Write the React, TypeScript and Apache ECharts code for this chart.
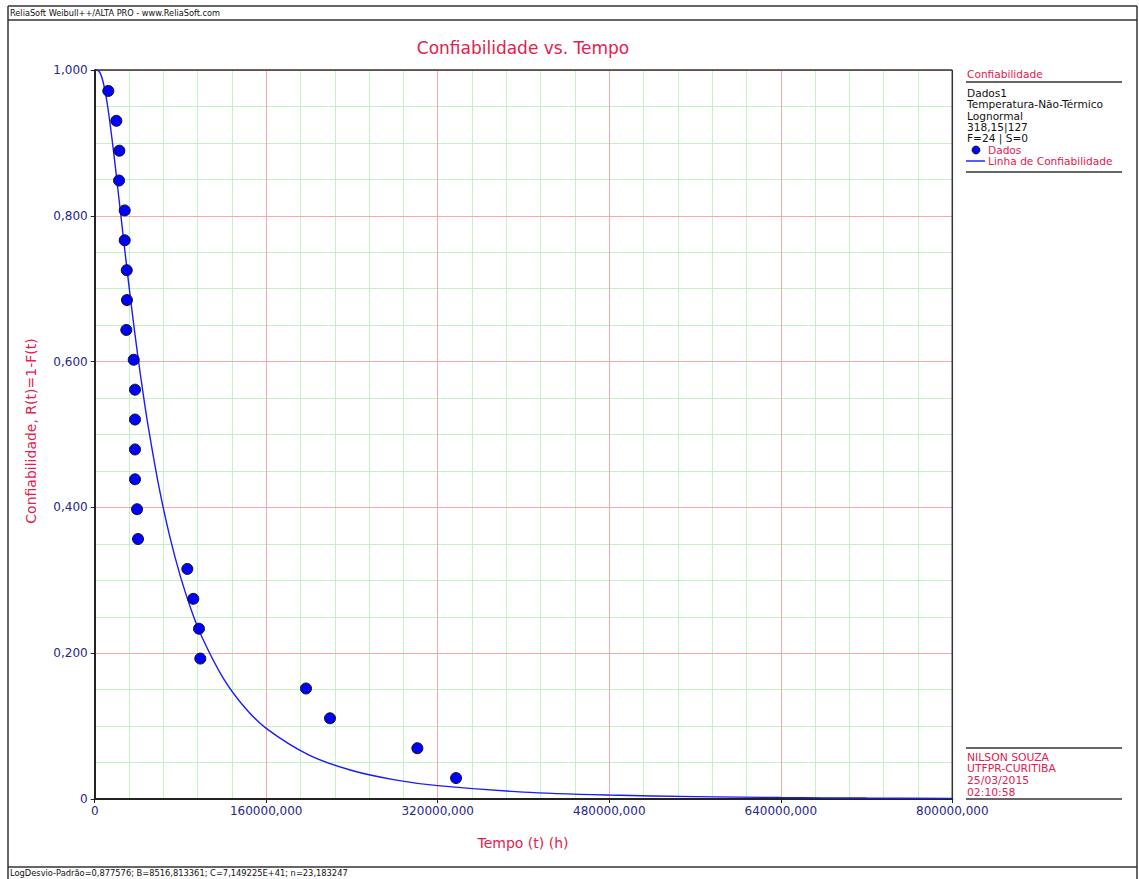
import React, { useEffect, useRef } from "react";
import * as echarts from "echarts";

// Failure data (time in hours) and median-rank reliability values
const dataTimes: number[] = [
  12700, 20200, 23000, 22700, 28000, 28000, 29900, 30100, 29500, 36400, 37600, 37600,
  37600, 37600, 39500, 40400, 86400, 92000, 97300, 98500, 197100, 219500, 301000, 337100,
];
const dataReliability: number[] = [
  0.9713, 0.9303, 0.8893, 0.8484, 0.8074, 0.7664, 0.7254, 0.6844, 0.6434, 0.6025, 0.5615, 0.5205,
  0.4795, 0.4385, 0.3975, 0.3566, 0.3156, 0.2746, 0.2336, 0.1926, 0.1516, 0.1107, 0.0697, 0.0287,
];

// Reliability line
const lineTimes: number[] = [
  0, 2500, 5000, 7500, 10000, 12500, 15000, 17500, 20000, 25000, 30000, 35000, 40000, 45000,
  50000, 60000, 70000, 80000, 90000, 100000, 120000, 140000, 160000, 200000, 240000, 280000,
  320000, 400000, 480000, 560000, 640000, 720000, 800000,
];
const lineReliability: number[] = [
  1.0, 0.9997, 0.996, 0.9856, 0.9685, 0.9458, 0.9189, 0.8891, 0.8576, 0.7926, 0.7283, 0.6671,
  0.6102, 0.5579, 0.5102, 0.4277, 0.3602, 0.3051, 0.2597, 0.2223, 0.1655, 0.1255, 0.0968,
  0.0601, 0.0391, 0.0263, 0.0183, 0.0095, 0.0054, 0.0032, 0.002, 0.0013, 0.0009,
];

const titleText = "Confiabilidade vs. Tempo";
const xAxisName = "Tempo (t) (h)";
const yAxisName = "Confiabilidade, R(t)=1-F(t)";
const headerText = "ReliaSoft Weibull++/ALTA PRO - www.ReliaSoft.com";
const footerText = "LogDesvio-Padrão=0,877576; B=8516,813361; C=7,149225E+41; n=23,183247";
const legendTitle = "Confiabilidade";
const legendInfo: string[] = ["Dados1", "Temperatura-Não-Térmico", "Lognormal", "318,15|127", "F=24 | S=0"];
const legendSeries: string[] = ["Dados", "Linha de Confiabilidade"];
const authorInfo: string[] = ["NILSON SOUZA", "UTFPR-CURITIBA", "25/03/2015", "02:10:58"];

const CRIMSON = "#e3204e";
const NAVY = "#26268c";
const FONT = "DejaVu Sans, Verdana, sans-serif";

export default function App() {
  const ref = useRef<HTMLDivElement>(null);
  useEffect(() => {
    if (!ref.current) return;
    const chart = echarts.init(ref.current, undefined, { renderer: "svg" });
    const fmtY = (v: number) => (v === 0 ? "0" : v.toFixed(3).replace(".", ","));
    const fmtX = (v: number) => (v === 0 ? "0" : v.toFixed(3).replace(".", ","));
    const frameLine = (x1: number, y1: number, x2: number, y2: number, w = 1.5, z = 10) => ({
      type: "line",
      shape: { x1, y1, x2, y2 },
      style: { stroke: "#333", lineWidth: w },
      silent: true,
      z,
    });
    const txt = (x: number, y: number, text: string, fill: string, size: number, extra: any = {}) => ({
      type: "text",
      x,
      y,
      style: {
        text,
        fill,
        font: `${size}px ${FONT}`,
        textAlign: "left",
        textVerticalAlign: "middle",
        verticalAlign: "middle",
        ...extra,
      },
      silent: true,
    });
    const gl = 94.7, gt = 70, gr = 952.3, gb = 799;
    const graphics: any[] = [
      frameLine(8, 6, 1137, 6),
      frameLine(8, 20, 1137, 20),
      frameLine(8, 867, 1137, 867),
      frameLine(8, 6, 8, 879),
      frameLine(1137, 6, 1137, 879),
      frameLine(gl, gt, gr, gt, 1.5, 100),
      frameLine(gr, gt, gr, gb, 1.5, 100),
      txt(10, 13, headerText, "#111", 8.2),
      txt(10, 873, footerText, "#111", 8.3),
      {
        type: "text",
        x: 523,
        y: 48,
        style: { text: titleText, fill: CRIMSON, font: `17px ${FONT}`, textAlign: "center", verticalAlign: "middle" },
        silent: true,
      },
      {
        type: "text",
        x: 523,
        y: 843,
        style: { text: xAxisName, fill: CRIMSON, font: `14px ${FONT}`, textAlign: "center", verticalAlign: "middle" },
        silent: true,
      },
      {
        type: "text",
        x: 31,
        y: 431,
        rotation: Math.PI / 2,
        style: { text: yAxisName, fill: CRIMSON, font: `14px ${FONT}`, textAlign: "center", verticalAlign: "middle" },
        silent: true,
      },
      txt(967, 74, legendTitle, CRIMSON, 10.6),
      frameLine(966, 82, 1122, 82),
      ...legendInfo.map((s, i) => txt(967, 93 + i * 11.3, s, "#111", 10.6)),
      {
        type: "circle",
        shape: { cx: 976, cy: 150, r: 4 },
        style: { fill: "#0000ff", stroke: "#111", lineWidth: 0.8 },
        silent: true,
      },
      txt(988, 150, legendSeries[0], CRIMSON, 10.6),
      {
        type: "line",
        shape: { x1: 966, y1: 161, x2: 985, y2: 161 },
        style: { stroke: "#0000ff", lineWidth: 1.3 },
        silent: true,
      },
      txt(988, 161, legendSeries[1], CRIMSON, 10.6),
      frameLine(966, 172, 1122, 172),
      frameLine(966, 748, 1122, 748),
      ...authorInfo.map((s, i) => txt(967, 757 + i * 11.7, s, CRIMSON, 10.8)),
      frameLine(966, 799, 1122, 799),
    ];

    chart.setOption({
      animation: false,
      backgroundColor: "#ffffff",
      grid: {
        left: gl,
        top: gt,
        right: 1139 - gr,
        bottom: 879 - gb,
        show: false,
      },
      xAxis: [
        {
          type: "value",
          min: 0,
          max: 800000,
          interval: 160000,
          z: 2,
          axisLine: { show: true, onZero: false, lineStyle: { color: "#222", width: 2 } },
          axisTick: { show: true, length: 4, lineStyle: { color: "#222" } },
          axisLabel: { color: NAVY, fontSize: 12, fontFamily: FONT, margin: 6, formatter: fmtX },
          splitLine: { show: true, lineStyle: { color: "#f7a8a8", width: 1 } },
        },
        {
          type: "value",
          min: 0,
          max: 800000,
          interval: 32000,
          z: 1,
          axisLine: { show: false },
          axisTick: { show: false },
          axisLabel: { show: false },
          splitLine: { show: true, lineStyle: { color: "#c4f2c4", width: 1 } },
        },
      ],
      yAxis: [
        {
          type: "value",
          min: 0,
          max: 1,
          interval: 0.2,
          z: 2,
          axisLine: { show: true, onZero: false, lineStyle: { color: "#222", width: 2 } },
          axisTick: { show: true, length: 4, lineStyle: { color: "#222" } },
          axisLabel: { color: NAVY, fontSize: 12, fontFamily: FONT, margin: 7, formatter: fmtY },
          splitLine: { show: true, lineStyle: { color: "#f7a8a8", width: 1 } },
        },
        {
          type: "value",
          min: 0,
          max: 1,
          interval: 0.05,
          z: 1,
          axisLine: { show: false },
          axisTick: { show: false },
          axisLabel: { show: false },
          splitLine: { show: true, lineStyle: { color: "#c4f2c4", width: 1 } },
        },
      ],
      series: [
        {
          name: "Linha de Confiabilidade",
          type: "line",
          xAxisIndex: 0,
          yAxisIndex: 0,
          data: lineTimes.map((t, i) => [t, lineReliability[i]]),
          smooth: 0.3,
          symbol: "none",
          lineStyle: { color: "#1a1aff", width: 1.4 },
          z: 5,
        },
        {
          name: "Dados",
          type: "scatter",
          xAxisIndex: 0,
          yAxisIndex: 0,
          data: dataTimes.map((t, i) => [t, dataReliability[i]]),
          symbol: "circle",
          symbolSize: 11,
          itemStyle: { color: "#0000ff", borderColor: "#111", borderWidth: 1, opacity: 1 },
          z: 6,
        },
      ],
      graphic: graphics,
    });
    return () => chart.dispose();
  }, []);
  return (
    <div
      ref={ref}
      style={{ position: "absolute", left: 0, top: 0, width: 1139, height: 879, background: "#fff" }}
    />
  );
}
